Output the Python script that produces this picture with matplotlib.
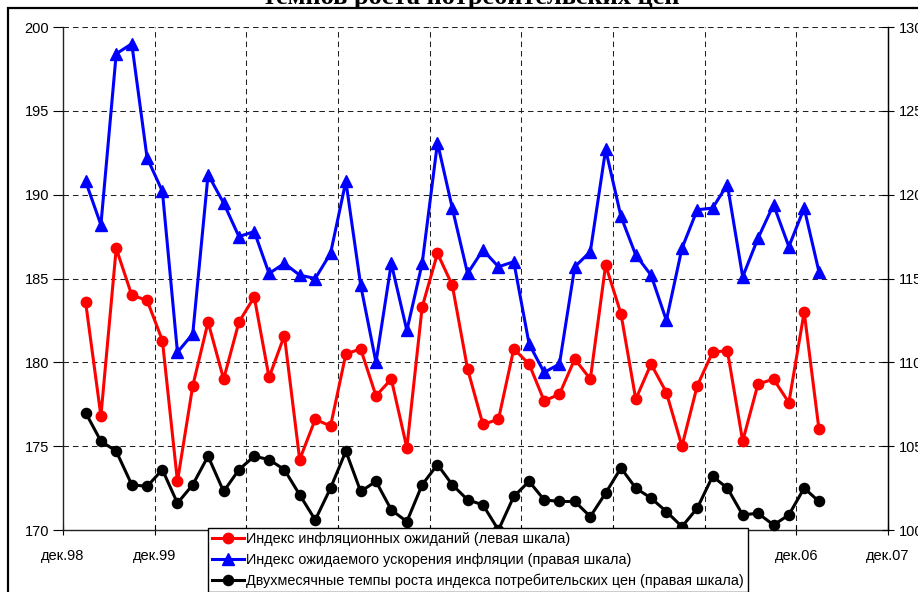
import matplotlib
matplotlib.use("Agg")
import matplotlib.pyplot as plt
import pandas as pd
from matplotlib.patches import Rectangle

# ── Data ─────────────────────────────────────────────────────────────────────
# bimonthly observations, first one in March 1999
dates = pd.date_range("1999-03-01", periods=49, freq="2MS")

# Индекс инфляционных ожиданий (левая шкала)
expect_idx = [183.6, 176.8, 186.8, 184.0, 183.7, 181.3, 172.9, 178.6, 182.4, 179.0,
              182.4, 183.9, 179.1, 181.6, 174.2, 176.6, 176.2, 180.5, 180.8, 178.0,
              179.0, 174.9, 183.3, 186.5, 184.6, 179.6, 176.3, 176.6, 180.8, 179.9,
              177.7, 178.1, 180.2, 179.0, 185.8, 182.9, 177.8, 179.9, 178.2, 175.0,
              178.6, 180.6, 180.7, 175.3, 178.7, 179.0, 177.6, 183.0, 176.0]

# Индекс ожидаемого ускорения инфляции (правая шкала)
accel_idx = [120.8, 118.2, 128.4, 129.0, 122.2, 120.2, 110.6, 111.7, 121.2, 119.5,
             117.5, 117.8, 115.3, 115.9, 115.2, 115.0, 116.5, 120.8, 114.6, 110.0,
             115.9, 111.9, 115.9, 123.1, 119.2, 115.3, 116.7, 115.7, 116.0, 111.1,
             109.4, 109.9, 115.7, 116.6, 122.7, 118.7, 116.4, 115.2, 112.5, 116.8,
             119.1, 119.2, 120.6, 115.1, 117.4, 119.4, 116.9, 119.2, 115.4]

# Двухмесячные темпы роста ИПЦ (правая шкала)
cpi_growth = [107.0, 105.3, 104.7, 102.7, 102.6, 103.6, 101.6, 102.7, 104.4, 102.3,
              103.6, 104.4, 104.2, 103.6, 102.1, 100.6, 102.5, 104.7, 102.3, 102.9,
              101.2, 100.5, 102.7, 103.9, 102.7, 101.8, 101.5, 100.0, 102.0, 102.9,
              101.8, 101.7, 101.7, 100.8, 102.2, 103.7, 102.5, 101.9, 101.1, 100.2,
              101.3, 103.2, 102.5, 100.9, 101.0, 100.3, 100.9, 102.5, 101.7]

tick_dates = pd.date_range("1998-12-01", "2007-12-01", freq="12MS")
tick_labels = ["дек.98", "дек.99", "дек.00", "дек.01", "дек.02",
               "дек.03", "дек.04", "дек.05", "дек.06", "дек.07"]

labels = ["Индекс инфляционных ожиданий (левая шкала)",
          "Индекс ожидаемого ускорения инфляции (правая шкала)",
          "Двухмесячные темпы роста индекса потребительских цен (правая шкала)"]

# ── Figure ───────────────────────────────────────────────────────────────────
W, H = 918, 592
plt.rcParams['font.family'] = ['Liberation Sans', 'DejaVu Sans']
fig = plt.figure(figsize=(W / 100, H / 100), dpi=100)

# outer chart border (cut off at right and bottom)
fig.patches.append(Rectangle((8 / W, -0.1), 1.2, 1 - 8 / H + 0.1,
                             transform=fig.transFigure, fill=False,
                             edgecolor="black", linewidth=1.6))

# title, mostly cut off at the top
fig.text(471 / W, 1 - 4 / H, "темпов роста потребительских цен",
         ha="center", va="baseline", fontsize=19, fontweight="bold",
         family=["Liberation Serif", "DejaVu Serif"])

ax = fig.add_axes([63 / W, 1 - 530 / H, 825 / W, 503 / H])
ax2 = ax.twinx()

grid_kw = dict(color="#222222", linewidth=0.75, dashes=(5.3, 3.8))

ax.set_xlim(tick_dates[0], tick_dates[-1])
ax.set_ylim(170, 200)
ax2.set_ylim(100, 130)
ax.set_yticks(range(170, 201, 5))
ax2.set_yticks(range(100, 131, 5))
ax.set_xticks(tick_dates)
ax.set_xticklabels(tick_labels)

for y in range(175, 201, 5):
    ax.axhline(y, zorder=0, **grid_kw)
for d in tick_dates[1:-1]:
    ax.axvline(d, zorder=0, **grid_kw)

ax.spines["top"].set_visible(False)
ax2.spines["top"].set_visible(False)
ax2.spines["left"].set_visible(False)
ax2.spines["bottom"].set_visible(False)
for s in ["left", "bottom"]:
    ax.spines[s].set_color("#222222")
    ax.spines[s].set_linewidth(1.0)
ax2.spines["right"].set_linewidth(1.0)

ax.tick_params(axis="y", direction="out", length=7, width=0.8, pad=3, labelsize=10.5)
ax.tick_params(axis="x", direction="inout", length=7, width=0.8, pad=10, labelsize=10.5)
ax2.tick_params(axis="y", direction="inout", length=9, width=0.8, pad=3, labelsize=10.5)

l1, = ax.plot(dates, expect_idx, color="#ff0000", linewidth=2.2, marker="o",
              markersize=7.5, clip_on=False, zorder=3)
l2, = ax2.plot(dates, accel_idx, color="#0000ff", linewidth=2.2, marker="^",
               markersize=8.5, clip_on=False, zorder=3)
l3, = ax2.plot(dates, cpi_growth, color="black", linewidth=2.2, marker="o",
               markersize=7.3, clip_on=False, zorder=3)

leg = fig.legend([l1, l2, l3], labels, loc="upper left",
                 bbox_to_anchor=(208 / W, 1 - 528 / H), fontsize=10.4,
                 frameon=True, fancybox=False, framealpha=1, edgecolor="black",
                 handlelength=2.2, handletextpad=0.1, borderpad=0.3,
                 labelspacing=0.45, borderaxespad=0)
leg.get_frame().set_linewidth(1.0)
leg.set_zorder(10)

fig.savefig("out.png", dpi=100, facecolor="white")
